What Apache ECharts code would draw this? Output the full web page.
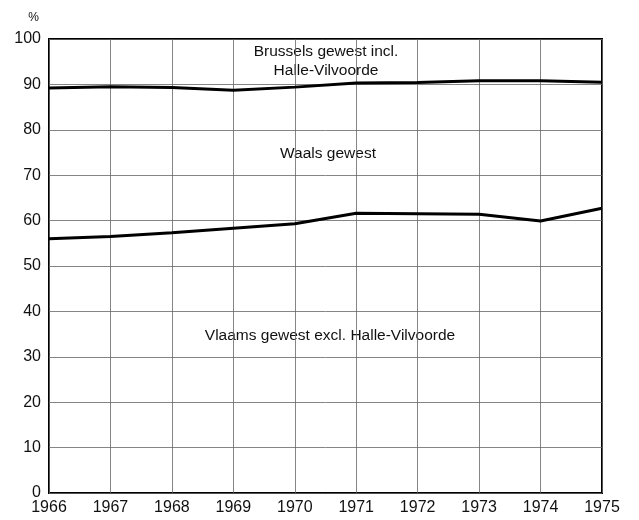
<!DOCTYPE html>
<html>
<head>
<meta charset="utf-8">
<script src="https://cdn.jsdelivr.net/npm/echarts@6/dist/echarts.min.js"></script>
<style>
  body { margin: 0; background: #fff; }
  #chart { width: 639px; height: 520px; }
</style>
</head>
<body>
<div id="chart"></div>
<script>
// jaren
var years = ["1966", "1967", "1968", "1969", "1970", "1971", "1972", "1973", "1974", "1975"];
// bovenste lijn (Brussels / Waals grens)
var upperLine = [89.2, 89.5, 89.3, 88.7, 89.4, 90.3, 90.4, 90.8, 90.8, 90.5];
// onderste lijn (Waals / Vlaams grens)
var lowerLine = [56.0, 56.5, 57.3, 58.3, 59.3, 61.6, 61.5, 61.4, 59.9, 62.7];
// regio labels
var regionLabels = ["Brussels gewest incl.", "Halle-Vilvoorde", "Waals gewest", "Vlaams gewest excl. Halle-Vilvoorde"];

var font = "Liberation Sans, Arial, sans-serif";
var labelFont = "15.5px " + font;
var myChart = echarts.init(document.getElementById("chart"));

function regionText(txt, cx, cy) {
  return {
    type: "text",
    x: cx,
    y: cy,
    style: { text: txt, font: labelFont, fill: "#111", align: "center", verticalAlign: "middle" },
  };
}

myChart.setOption({
  animation: false,
  grid: {
    left: 49,
    right: 37,
    top: 39,
    bottom: 27,
    show: true,
    borderColor: "#000",
    borderWidth: 2,
  },
  xAxis: {
    type: "category",
    data: years,
    boundaryGap: false,
    axisLine: { show: false },
    axisTick: { show: false },
    axisLabel: { color: "#111", fontSize: 16, fontFamily: font, margin: 7 },
    splitLine: { show: true, lineStyle: { color: "#666", width: 0.8 } },
  },
  yAxis: {
    type: "value",
    min: 0,
    max: 100,
    interval: 10,
    name: "%",
    nameLocation: "end",
    nameGap: 15,
    nameTextStyle: { color: "#111", fontSize: 12, fontFamily: font, align: "right", padding: [0, 10, 0, 0] },
    axisLine: { show: false },
    axisTick: { show: false },
    axisLabel: { color: "#111", fontSize: 16, fontFamily: font, margin: 8 },
    splitLine: { show: true, lineStyle: { color: "#666", width: 0.8 } },
  },
  graphic: [
    regionText(regionLabels[0], 326, 52),
    regionText(regionLabels[1], 326, 71),
    regionText(regionLabels[2], 328, 154),
    regionText(regionLabels[3], 330, 336),
  ],
  series: [
    {
      type: "line",
      data: upperLine,
      symbol: "none",
      lineStyle: { color: "#000", width: 3 },
    },
    {
      type: "line",
      data: lowerLine,
      symbol: "none",
      lineStyle: { color: "#000", width: 3 },
    },
  ],
});

window.addEventListener("resize", () => {
  myChart.resize();
});
</script>
</body>
</html>
